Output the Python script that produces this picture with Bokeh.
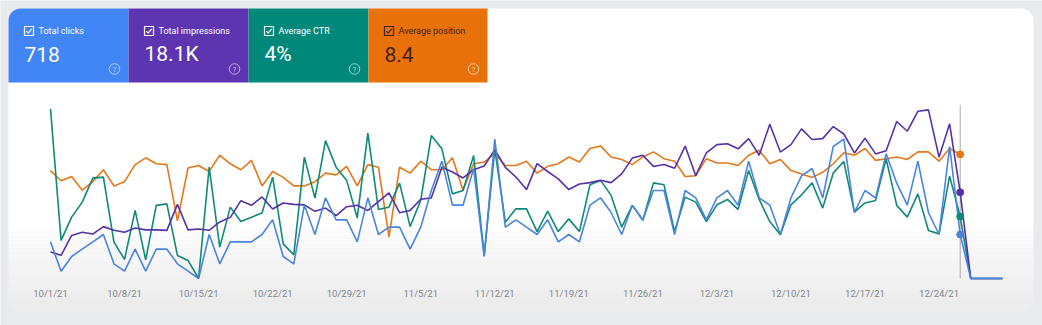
import numpy as np
import pandas as pd
from bokeh.plotting import figure
from bokeh.models import Range1d, BoxAnnotation, ColumnDataSource
from bokeh.core.properties import value
from bokeh.embed import file_html
from bokeh.resources import INLINE

# ---------------- data ----------------
first_day = "2021-10-01"
n_days = 91

clicks = [5, 1, 3, 4, 5, 6, 2, 1, 4, 1,
          4, 4, 2, 1, 0, 6, 2, 5, 5, 5,
          6, 8, 3, 2, 10, 6, 11, 8, 8, 5,
          11, 6, 7, 7, 4, 7, 12, 16, 10, 10,
          15, 3, 19, 7, 8, 7, 6, 8, 5, 6,
          5, 10, 11, 9, 6, 10, 8, 12, 12, 6,
          12, 11, 8, 11, 12, 10, 16, 11, 10, 6,
          11, 14, 15, 11, 18, 19, 9, 12, 11, 17,
          13, 10, 16, 9, 6, 18, 6,
          0, 0, 0, 0]

impressions = [57, 50, 93, 100, 96, 112, 104, 100, 109, 105,
               105, 104, 160, 105, 107, 104, 122, 132, 168, 158,
               176, 150, 163, 160, 159, 145, 152, 136, 155, 158,
               147, 166, 185, 142, 147, 171, 174, 240, 230, 217,
               235, 243, 278, 240, 219, 192, 248, 231, 215, 192,
               204, 207, 212, 207, 226, 260, 266, 242, 246, 238,
               286, 222, 271, 289, 291, 280, 302, 266, 333, 273,
               289, 323, 300, 302, 328, 312, 271, 303, 269, 276,
               339, 318, 361, 364, 262, 334, 186,
               0, 0, 0, 0]

ctr = [8.82, 1.98, 3.19, 3.97, 5.22, 5.27, 1.89, 0.99, 3.54, 0.97,
       3.80, 3.88, 1.20, 0.94, 0.00, 5.79, 1.63, 3.71, 2.96, 3.19,
       3.41, 5.27, 1.80, 1.23, 6.31, 4.18, 7.17, 5.79, 5.10, 3.15,
       7.56, 3.59, 3.71, 4.96, 2.70, 4.06, 7.43, 6.74, 4.40, 4.58,
       6.39, 1.20, 6.74, 2.93, 3.62, 3.62, 2.44, 3.50, 2.44, 3.10,
       2.44, 4.87, 5.10, 4.32, 2.67, 3.80, 3.02, 4.97, 4.87, 2.44,
       4.23, 3.97, 2.96, 3.83, 4.11, 3.59, 5.62, 4.11, 2.96, 2.27,
       3.83, 4.35, 4.97, 3.66, 5.49, 6.08, 3.45, 3.93, 4.06, 6.22,
       3.80, 3.19, 4.40, 2.50, 2.32, 5.32, 3.22,
       0, 0, 0, 0]

position = [9.0, 10.2, 9.7, 11.3, 10.3, 8.9, 10.8, 10.3, 8.3, 7.5,
            8.2, 8.3, 14.9, 8.7, 8.4, 9.1, 7.2, 8.2, 8.9, 7.8,
            10.8, 9.1, 9.8, 10.8, 10.8, 10.3, 9.3, 9.5, 8.5, 10.8,
            8.3, 8.6, 16.8, 8.6, 9.3, 7.9, 8.9, 8.9, 7.5, 11.3,
            8.2, 8.0, 7.0, 8.4, 8.4, 7.9, 9.3, 8.5, 8.2, 7.4,
            8.0, 6.4, 6.1, 7.4, 7.7, 8.3, 7.4, 6.8, 7.6, 7.9,
            9.7, 9.6, 7.6, 8.1, 8.1, 8.4, 7.2, 6.6, 8.2, 7.7,
            9.0, 9.4, 9.8, 9.2, 8.2, 6.9, 7.2, 6.4, 7.8, 7.6,
            7.4, 7.7, 6.8, 6.8, 7.9, 6.4, 7.1,
            None, None, None, None]

metric_names = ["Total clicks", "Total impressions", "Average CTR", "Average position"]
metric_values = ["718", "18.1K", "4%", "8.4"]
metric_colors = ["#4285f4", "#5e35b1", "#00897b", "#e8710a"]
metric_text_colors = ["#ffffff", "#ffffff", "#ffffff", "#3d2414"]
line_colors = {"clicks": "#4a84dc", "impressions": "#5631a8",
               "ctr": "#10897a", "position": "#e5781a"}

tick_labels = ["10/1/21", "10/8/21", "10/15/21", "10/22/21", "10/29/21", "11/5/21",
               "11/12/21", "11/19/21", "11/26/21", "12/3/21", "12/10/21", "12/17/21",
               "12/24/21"]
hover_day = "2021-12-26"

# axis maxima of the hidden per-metric scales (value at top of plot area)
clicks_max = 24
impressions_max = 380
ctr_max = 9.15
position_top, position_bottom = 1.0, 21.68

# ---------------- layout ----------------
W, H = 1042, 325
X_FIRST, X_LAST = 50, 1002       # pixel of first / last day
ZERO_PX, TOP_PX = 278, 102       # pixel (from top) of value 0 / axis max


def Y(p):
    """pixel measured from top -> 'py' range value"""
    return H - p


dates = pd.date_range(first_day, periods=n_days)
day_px = (X_LAST - X_FIRST) / (n_days - 1)
x_start = dates[0] - pd.Timedelta(days=X_FIRST / day_px)
x_end = dates[0] + pd.Timedelta(days=(W - X_FIRST) / day_px)


def metric_range(vmax):
    per_px = vmax / (ZERO_PX - TOP_PX)
    return Range1d(start=-(H - ZERO_PX) * per_px, end=ZERO_PX * per_px)


pos_per_px = (position_bottom - position_top) / (ZERO_PX - TOP_PX)
pos_range = Range1d(start=position_top + (H - TOP_PX) * pos_per_px,
                    end=position_top - TOP_PX * pos_per_px)

p = figure(width=W, height=H, x_range=Range1d(x_start, x_end),
           y_range=metric_range(clicks_max),
           x_axis_location=None, y_axis_location=None,
           toolbar_location=None, output_backend="svg", min_border=0)
p.extra_y_ranges = {"imp": metric_range(impressions_max), "ctr": metric_range(ctr_max),
                    "pos": pos_range, "py": Range1d(0, H)}
p.extra_x_ranges = {"px": Range1d(0, W)}
p.grid.visible = False
p.outline_line_color = None
p.background_fill_color = "#e8eaee"
p.border_fill_color = "#e8eaee"

FONT = value("Roboto")

# ---------------- card ----------------
card_l, card_r, card_t, card_b = 8, 1033, 8, 312
p.add_layout(BoxAnnotation(left=card_l, right=card_r, top=Y(card_t), bottom=Y(card_b),
                           x_range_name="px", y_range_name="py", level="underlay",
                           fill_color="#ececec", fill_alpha=1, line_color=None,
                           border_radius=12))
grad_t, grad_b = 228, 304
p.add_layout(BoxAnnotation(left=card_l, right=card_r, top=Y(card_t), bottom=Y(grad_t),
                           x_range_name="px", y_range_name="py", level="underlay",
                           fill_color="#ffffff", fill_alpha=1, line_color=None,
                           border_radius=(12, 12, 0, 0)))
band_edges = np.arange(grad_t, grad_b + 0.1, 2.0)
shades = np.linspace(255, 236, len(band_edges) - 1).astype(int)
p.quad(left=card_l, right=card_r, top=[Y(v) for v in band_edges[:-1]],
       bottom=[Y(v) for v in band_edges[1:]],
       fill_color=["#%02x%02x%02x" % (s, s, s) for s in shades], line_color=None,
       x_range_name="px", y_range_name="py")

# ---------------- metric tiles ----------------
tile_edges = [8, 128, 248, 368, 487]
tile_t, tile_b = 8, 82
for i, col in enumerate(metric_colors):
    p.add_layout(BoxAnnotation(left=tile_edges[i], right=tile_edges[i + 1],
                               top=Y(tile_t), bottom=Y(tile_b),
                               x_range_name="px", y_range_name="py", level="underlay",
                               fill_color=col, fill_alpha=1, line_color=None,
                               border_radius=(12, 0, 0, 0) if i == 0 else 0))

lefts = np.array(tile_edges[:-1], dtype=float)
rights = np.array(tile_edges[1:], dtype=float)
tiles = ColumnDataSource(dict(
    lx=lefts + 30, vx=lefts + 16, cx=lefts + 20.5, hx=rights - 14,
    ly=[Y(30.2)] * 4, vy=[Y(53.5)] * 4, cy=[Y(30.5)] * 4, hy=[Y(68.5)] * 4,
    name=metric_names, val=metric_values, tc=metric_text_colors, q=["?"] * 4,
))
p.text(x="lx", y="ly", text="name", source=tiles, x_range_name="px", y_range_name="py",
       text_font=FONT, text_font_size="9px", text_color="tc",
       text_baseline="middle", text_align="left")
p.text(x="vx", y="vy", text="val", source=tiles, x_range_name="px", y_range_name="py",
       text_font=FONT, text_font_size="21px", text_color="tc",
       text_baseline="middle", text_align="left")
# checkboxes
p.rect(x="cx", y="cy", width=9, height=9, source=tiles, x_range_name="px",
       y_range_name="py", fill_alpha=0, line_color="tc", line_width=1.2)
p.multi_line(xs=[[c - 2.6, c - 0.8, c + 2.7] for c in lefts + 20.5],
             ys=[[Y(30.6), Y(32.6), Y(28.4)]] * 4,
             line_color=metric_text_colors, line_width=1.2,
             x_range_name="px", y_range_name="py")
# help icons
p.scatter(x="hx", y="hy", source=tiles, marker="circle", size=10.5,
          fill_alpha=0, line_color="#ffffff", line_alpha=0.6, line_width=1,
          x_range_name="px", y_range_name="py")
p.text(x="hx", y="hy", text="q", source=tiles, x_range_name="px", y_range_name="py",
       text_font=FONT, text_font_size="7.5px", text_color="#ffffff", text_alpha=0.7,
       text_baseline="middle", text_align="center")

# ---------------- tick labels ----------------
tick_dates = pd.to_datetime(tick_labels, format="%m/%d/%y")
p.text(x=tick_dates, y=[Y(293)] * len(tick_labels), text=tick_labels, y_range_name="py",
       text_font=FONT, text_font_size="9.5px", text_color="#80868b",
       text_baseline="middle", text_align="center")

# ---------------- series ----------------
src = ColumnDataSource(dict(
    date=dates, clicks=clicks, impressions=impressions, ctr=ctr,
    position=[np.nan if v is None else v for v in position],
))

hd = pd.Timestamp(hover_day)
hi = int((hd - dates[0]).days)
p.segment(x0=[hd], x1=[hd], y0=[0], y1=[clicks_max * 0.985],
          line_color="#a9a9a9", line_width=1)

p.line("date", "position", source=src, y_range_name="pos",
       line_color=line_colors["position"], line_width=1.6)
p.line("date", "ctr", source=src, y_range_name="ctr",
       line_color=line_colors["ctr"], line_width=1.6)
p.line("date", "impressions", source=src, y_range_name="imp",
       line_color=line_colors["impressions"], line_width=1.6)
p.line("date", "clicks", source=src, line_color=line_colors["clicks"], line_width=1.6)

p.scatter(x=[hd], y=[position[hi]], y_range_name="pos", size=7, color=line_colors["position"])
p.scatter(x=[hd], y=[ctr[hi]], y_range_name="ctr", size=7, color=line_colors["ctr"])
p.scatter(x=[hd], y=[impressions[hi]], y_range_name="imp", size=7,
          color=line_colors["impressions"])
p.scatter(x=[hd], y=[clicks[hi]], size=7, color=line_colors["clicks"])

open("out.html", "w").write(file_html(p, INLINE))
